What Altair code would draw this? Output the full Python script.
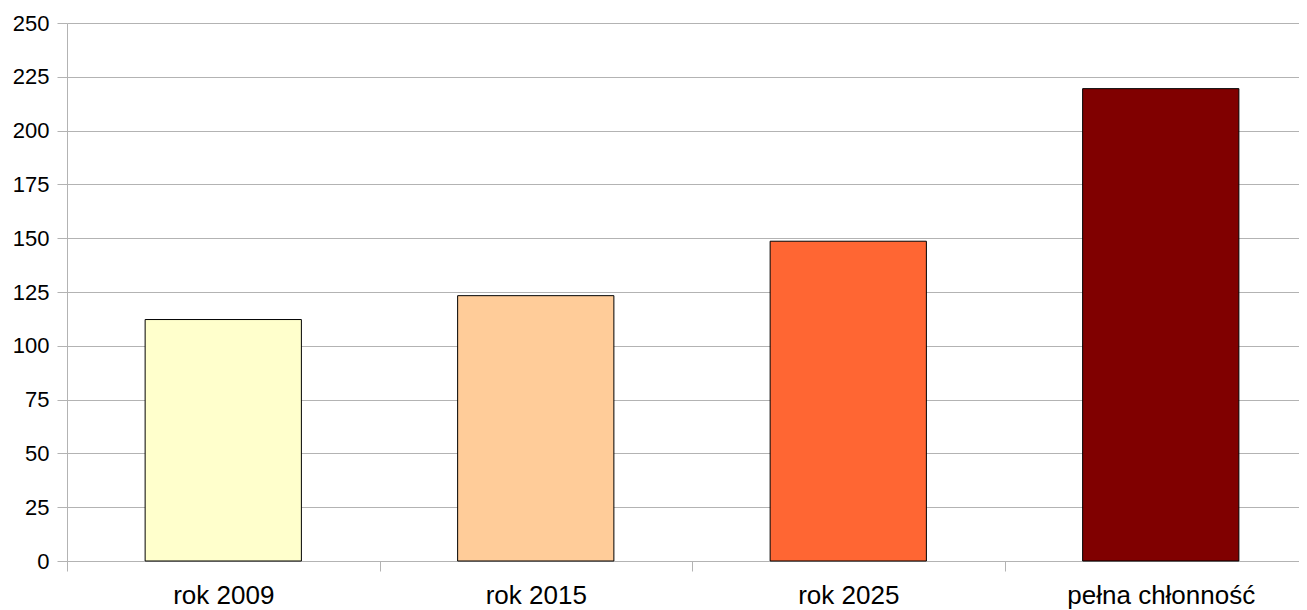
import altair as alt
import pandas as pd

categories = ["rok 2009", "rok 2015", "rok 2025", "pełna chłonność"]
values = [112.2, 123.3, 148.6, 219.5]
colors = ["#ffffcc", "#ffcc99", "#ff6633", "#800000"]

df = pd.DataFrame({"kategoria": categories, "wartosc": values})

chart = alt.Chart(df).mark_bar(
    stroke="#000000", strokeWidth=1, width=alt.RelativeBandSize(0.5)
).encode(
    x=alt.X("kategoria:N", sort=categories,
            scale=alt.Scale(paddingInner=0, paddingOuter=0, range=[0, 1250]),
            axis=alt.Axis(title=None, labelAngle=0, tickBand="extent", grid=False,
                          domainColor="#b3b3b3", tickColor="#b3b3b3", tickSize=10,
                          labelFont="Liberation Sans", labelFontSize=26, labelColor="#000000",
                          labelPadding=11, labelLimit=0)),
    y=alt.Y("wartosc:Q", scale=alt.Scale(domain=[0, 250], nice=False),
            axis=alt.Axis(title=None, values=list(range(0, 251, 25)),
                          domainColor="#b3b3b3", tickColor="#b3b3b3", tickSize=10,
                          gridColor="#b3b3b3", gridWidth=1,
                          labelFont="Liberation Sans", labelFontSize=22, labelColor="#000000",
                          labelPadding=8)),
    color=alt.Color("kategoria:N", sort=categories,
                    scale=alt.Scale(domain=categories, range=colors), legend=None),
).properties(
    width=1232, height=538,
    autosize=alt.AutoSizeParams(type="none"),
    padding={"left": 59, "top": 15, "right": 0, "bottom": 49},
).configure_view(stroke=None)

chart.save("out.html", embed_options={"renderer": "svg", "actions": False})
